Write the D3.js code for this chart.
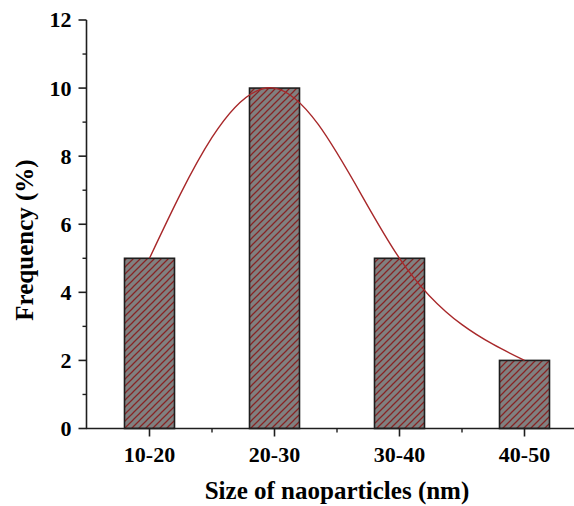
<!DOCTYPE html>
<html>
<head>
<meta charset="utf-8">
<script src="https://cdn.jsdelivr.net/npm/d3@7/dist/d3.min.js"></script>
<style>
  html, body { margin: 0; padding: 0; background: #fff; }
  svg { display: block; font-family: "Liberation Serif", "Times New Roman", serif; font-weight: bold; }
</style>
</head>
<body>
<svg id="chart" width="574" height="506"></svg>
<script>
// Size distribution of nanoparticles
const categories = ["10-20", "20-30", "30-40", "40-50"];
const frequency = [5, 10, 5, 2];
const yTicks = [0, 2, 4, 6, 8, 10, 12];
const yMinorTicks = [1, 3, 5, 7, 9, 11];

const svg = d3.select("#chart");

const x = d3.scaleBand().domain(categories).range([87, 587]).padding(0);
const y = d3.scaleLinear().domain([0, 12]).range([428.5, 20]);
const cx = d => x(d) + x.bandwidth() / 2;
const barW = x.bandwidth() * 0.4;

// diagonal hatch fill for bars
const defs = svg.append("defs");
const pat = defs.append("pattern")
  .attr("id", "hatch")
  .attr("patternUnits", "userSpaceOnUse")
  .attr("width", 7).attr("height", 7);
pat.append("rect").attr("width", 7).attr("height", 7).attr("fill", "#808080");
pat.append("path")
  .attr("d", "M-1,1 l2,-2 M0,7 l7,-7 M6,8 l2,-2")
  .attr("stroke", "#862424").attr("stroke-width", 1.25);

// bars
svg.append("g").selectAll("rect")
  .data(categories)
  .join("rect")
  .attr("x", d => cx(d) - barW / 2)
  .attr("y", (d, i) => y(frequency[i]))
  .attr("width", barW)
  .attr("height", (d, i) => y(0) - y(frequency[i]))
  .attr("fill", "url(#hatch)")
  .attr("stroke", "#1e1e1e")
  .attr("stroke-width", 1.6);

// smooth distribution curve through the bar tops
const line = d3.line()
  .x(d => cx(d[0]))
  .y(d => y(d[1]))
  .curve(d3.curveNatural);
svg.append("path")
  .datum(categories.map((c, i) => [c, frequency[i]]))
  .attr("d", line)
  .attr("fill", "none")
  .attr("stroke", "#a8282a")
  .attr("stroke-width", 1.4);

// y axis
const yAxis = svg.append("g").attr("transform", "translate(86.5,0)");
yAxis.append("line")
  .attr("y1", y(12)).attr("y2", y(0))
  .attr("stroke", "#1e1e1e").attr("stroke-width", 1.6);
yAxis.selectAll(".major").data(yTicks).join("line")
  .attr("x1", -8).attr("x2", 0)
  .attr("y1", d => y(d)).attr("y2", d => y(d))
  .attr("stroke", "#1e1e1e").attr("stroke-width", 1.6);
yAxis.selectAll(".minor").data(yMinorTicks).join("line")
  .attr("x1", -4).attr("x2", 0)
  .attr("y1", d => y(d)).attr("y2", d => y(d))
  .attr("stroke", "#1e1e1e").attr("stroke-width", 1.4);
yAxis.selectAll("text").data(yTicks).join("text")
  .attr("x", -15).attr("y", d => y(d))
  .attr("dy", "0.34em")
  .attr("text-anchor", "end")
  .attr("font-size", 22)
  .text(d => d);

// x axis
const xAxis = svg.append("g").attr("transform", `translate(0,${y(0)})`);
xAxis.append("line")
  .attr("x1", 86).attr("x2", 574)
  .attr("stroke", "#1e1e1e").attr("stroke-width", 1.6);
xAxis.selectAll(".major").data(categories).join("line")
  .attr("x1", d => cx(d)).attr("x2", d => cx(d))
  .attr("y1", 0).attr("y2", 8)
  .attr("stroke", "#1e1e1e").attr("stroke-width", 1.6);
xAxis.selectAll(".minor").data(categories.slice(1)).join("line")
  .attr("x1", d => x(d)).attr("x2", d => x(d))
  .attr("y1", 0).attr("y2", 4)
  .attr("stroke", "#1e1e1e").attr("stroke-width", 1.4);
xAxis.selectAll("text").data(categories).join("text")
  .attr("x", d => cx(d)).attr("y", 33)
  .attr("text-anchor", "middle")
  .attr("font-size", 22)
  .text(d => d);

// axis titles
svg.append("text")
  .attr("x", 337).attr("y", 499)
  .attr("text-anchor", "middle")
  .attr("font-size", 25)
  .text("Size of naoparticles (nm)");
svg.append("text")
  .attr("transform", "translate(33,240) rotate(-90)")
  .attr("text-anchor", "middle")
  .attr("font-size", 25)
  .text("Frequency (%)");
</script>
</body>
</html>
